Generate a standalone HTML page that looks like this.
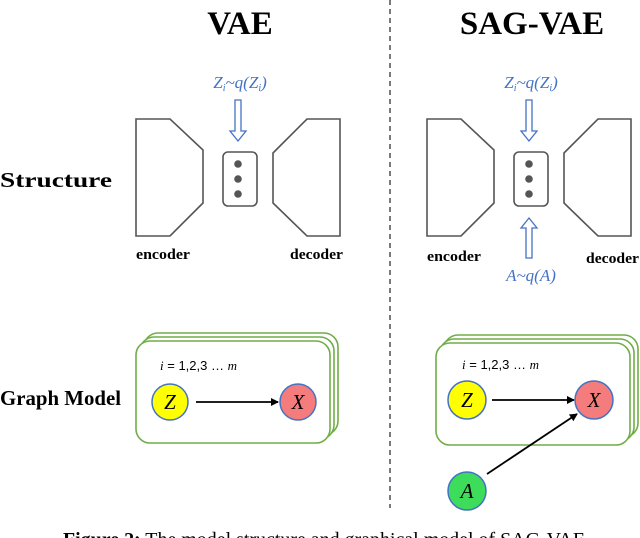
<!DOCTYPE html>
<html><head><style>body{margin:0;background:#fff}svg{display:block}</style></head><body>
<svg width="640" height="538" viewBox="0 0 640 538" xmlns="http://www.w3.org/2000/svg" font-family="Liberation Serif, serif">
<defs><marker id="ah" markerWidth="8" markerHeight="8" refX="7" refY="4" orient="auto" markerUnits="userSpaceOnUse"><path d="M0,0 L8,4 L0,8z" fill="#000"/></marker></defs>
<text x="240" y="34" font-size="33" font-weight="bold" text-anchor="middle">VAE</text>
<text x="532" y="34" font-size="33" font-weight="bold" text-anchor="middle">SAG-VAE</text>
<line x1="390" y1="0" x2="390" y2="508" stroke="#333" stroke-width="1.3" stroke-dasharray="5,4"/>
<text x="0" y="187" font-size="21" font-weight="bold" textLength="112" lengthAdjust="spacingAndGlyphs">Structure</text>
<text x="0" y="405" font-size="21" font-weight="bold" textLength="121" lengthAdjust="spacingAndGlyphs">Graph Model</text>
<g id="s" fill="none" stroke="#555" stroke-width="1.6">
<polygon points="136,119 170,119 203,150 203,203 170,236 136,236" fill="#fff"/>
<polygon points="273,153 307,119 340,119 340,236 307,236 273,203" fill="#fff"/>
<rect x="223" y="152" width="34" height="54" rx="5"/>
<circle cx="238" cy="164" r="3.8" fill="#555" stroke="none"/>
<circle cx="238" cy="179" r="3.8" fill="#555" stroke="none"/>
<circle cx="238" cy="194" r="3.8" fill="#555" stroke="none"/>
<polygon points="235,100 241,100 241,131 246,131 238,141 230,131 235,131" stroke="#4472c4" stroke-width="1.3"/>
</g>
<text x="136" y="259" font-size="15" font-weight="bold" textLength="54" lengthAdjust="spacingAndGlyphs">encoder</text>
<text x="290" y="259" font-size="15" font-weight="bold" textLength="53" lengthAdjust="spacingAndGlyphs">decoder</text>
<text x="240" y="88" font-size="17" font-style="italic" fill="#4472c4" text-anchor="middle">Z<tspan font-size="10" dy="3">i</tspan><tspan dy="-3">~q(Z</tspan><tspan font-size="10" dy="3">i</tspan><tspan dy="-3">)</tspan></text>
<g transform="translate(291,0)">
<use href="#s"/>
<polygon points="235,258 241,258 241,228 246,228 238,218 230,228 235,228" fill="none" stroke="#4472c4" stroke-width="1.3"/>
<text x="136" y="261" font-size="15" font-weight="bold" textLength="54" lengthAdjust="spacingAndGlyphs">encoder</text>
<text x="295" y="263" font-size="15" font-weight="bold" textLength="53" lengthAdjust="spacingAndGlyphs">decoder</text>
<text x="240" y="88" font-size="17" font-style="italic" fill="#4472c4" text-anchor="middle">Z<tspan font-size="10" dy="3">i</tspan><tspan dy="-3">~q(Z</tspan><tspan font-size="10" dy="3">i</tspan><tspan dy="-3">)</tspan></text>
<text x="240" y="281" font-size="17" font-style="italic" fill="#4472c4" text-anchor="middle">A~q(A)</text>
</g>
<g stroke="#70ad47" stroke-width="1.6" fill="#fff">
<rect x="144" y="333" width="194" height="102" rx="14"/>
<rect x="140" y="337" width="194" height="102" rx="14"/>
<rect x="136" y="341" width="194" height="102" rx="14"/>
</g>
<text x="160" y="370" font-size="13" font-family="Liberation Sans, sans-serif"><tspan font-style="italic" font-family="Liberation Serif">i</tspan> = 1,2,3 … <tspan font-style="italic" font-family="Liberation Serif">m</tspan></text>
<line x1="196" y1="402" x2="278" y2="402" stroke="#000" stroke-width="1.8" marker-end="url(#ah)"/>
<circle cx="170" cy="402" r="18" fill="#ffff00" stroke="#4472c4" stroke-width="1.5"/>
<text x="170" y="409" font-size="21" font-style="italic" text-anchor="middle">Z</text>
<circle cx="298" cy="402" r="18" fill="#f47c7c" stroke="#4472c4" stroke-width="1.5"/>
<text x="298" y="409" font-size="21" font-style="italic" text-anchor="middle">X</text>
<g transform="translate(300,0)">
<rect x="144" y="335" width="194" height="102" rx="14" stroke="#70ad47" stroke-width="1.6" fill="#fff"/>
<rect x="140" y="339" width="194" height="102" rx="14" stroke="#70ad47" stroke-width="1.6" fill="#fff"/>
<rect x="136" y="343" width="194" height="102" rx="14" stroke="#70ad47" stroke-width="1.6" fill="#fff"/>
<text x="162" y="369" font-size="13" font-family="Liberation Sans, sans-serif"><tspan font-style="italic" font-family="Liberation Serif">i</tspan> = 1,2,3 … <tspan font-style="italic" font-family="Liberation Serif">m</tspan></text>
<line x1="192" y1="400" x2="274" y2="400" stroke="#000" stroke-width="1.8" marker-end="url(#ah)"/>
<line x1="187" y1="474" x2="277" y2="414" stroke="#000" stroke-width="1.8" marker-end="url(#ah)"/>
<circle cx="167" cy="400" r="19" fill="#ffff00" stroke="#4472c4" stroke-width="1.5"/>
<text x="167" y="407" font-size="21" font-style="italic" text-anchor="middle">Z</text>
<circle cx="294" cy="400" r="19" fill="#f47c7c" stroke="#4472c4" stroke-width="1.5"/>
<text x="294" y="407" font-size="21" font-style="italic" text-anchor="middle">X</text>
<circle cx="167" cy="491" r="19" fill="#3ddc5a" stroke="#4472c4" stroke-width="1.5"/>
<text x="167" y="498" font-size="21" font-style="italic" text-anchor="middle">A</text>
</g>
<text x="63" y="546" font-size="20" textLength="527" lengthAdjust="spacingAndGlyphs"><tspan font-weight="bold">Figure 2:</tspan> The model structure and graphical model of SAG-VAE.</text>
</svg>
</body></html>
